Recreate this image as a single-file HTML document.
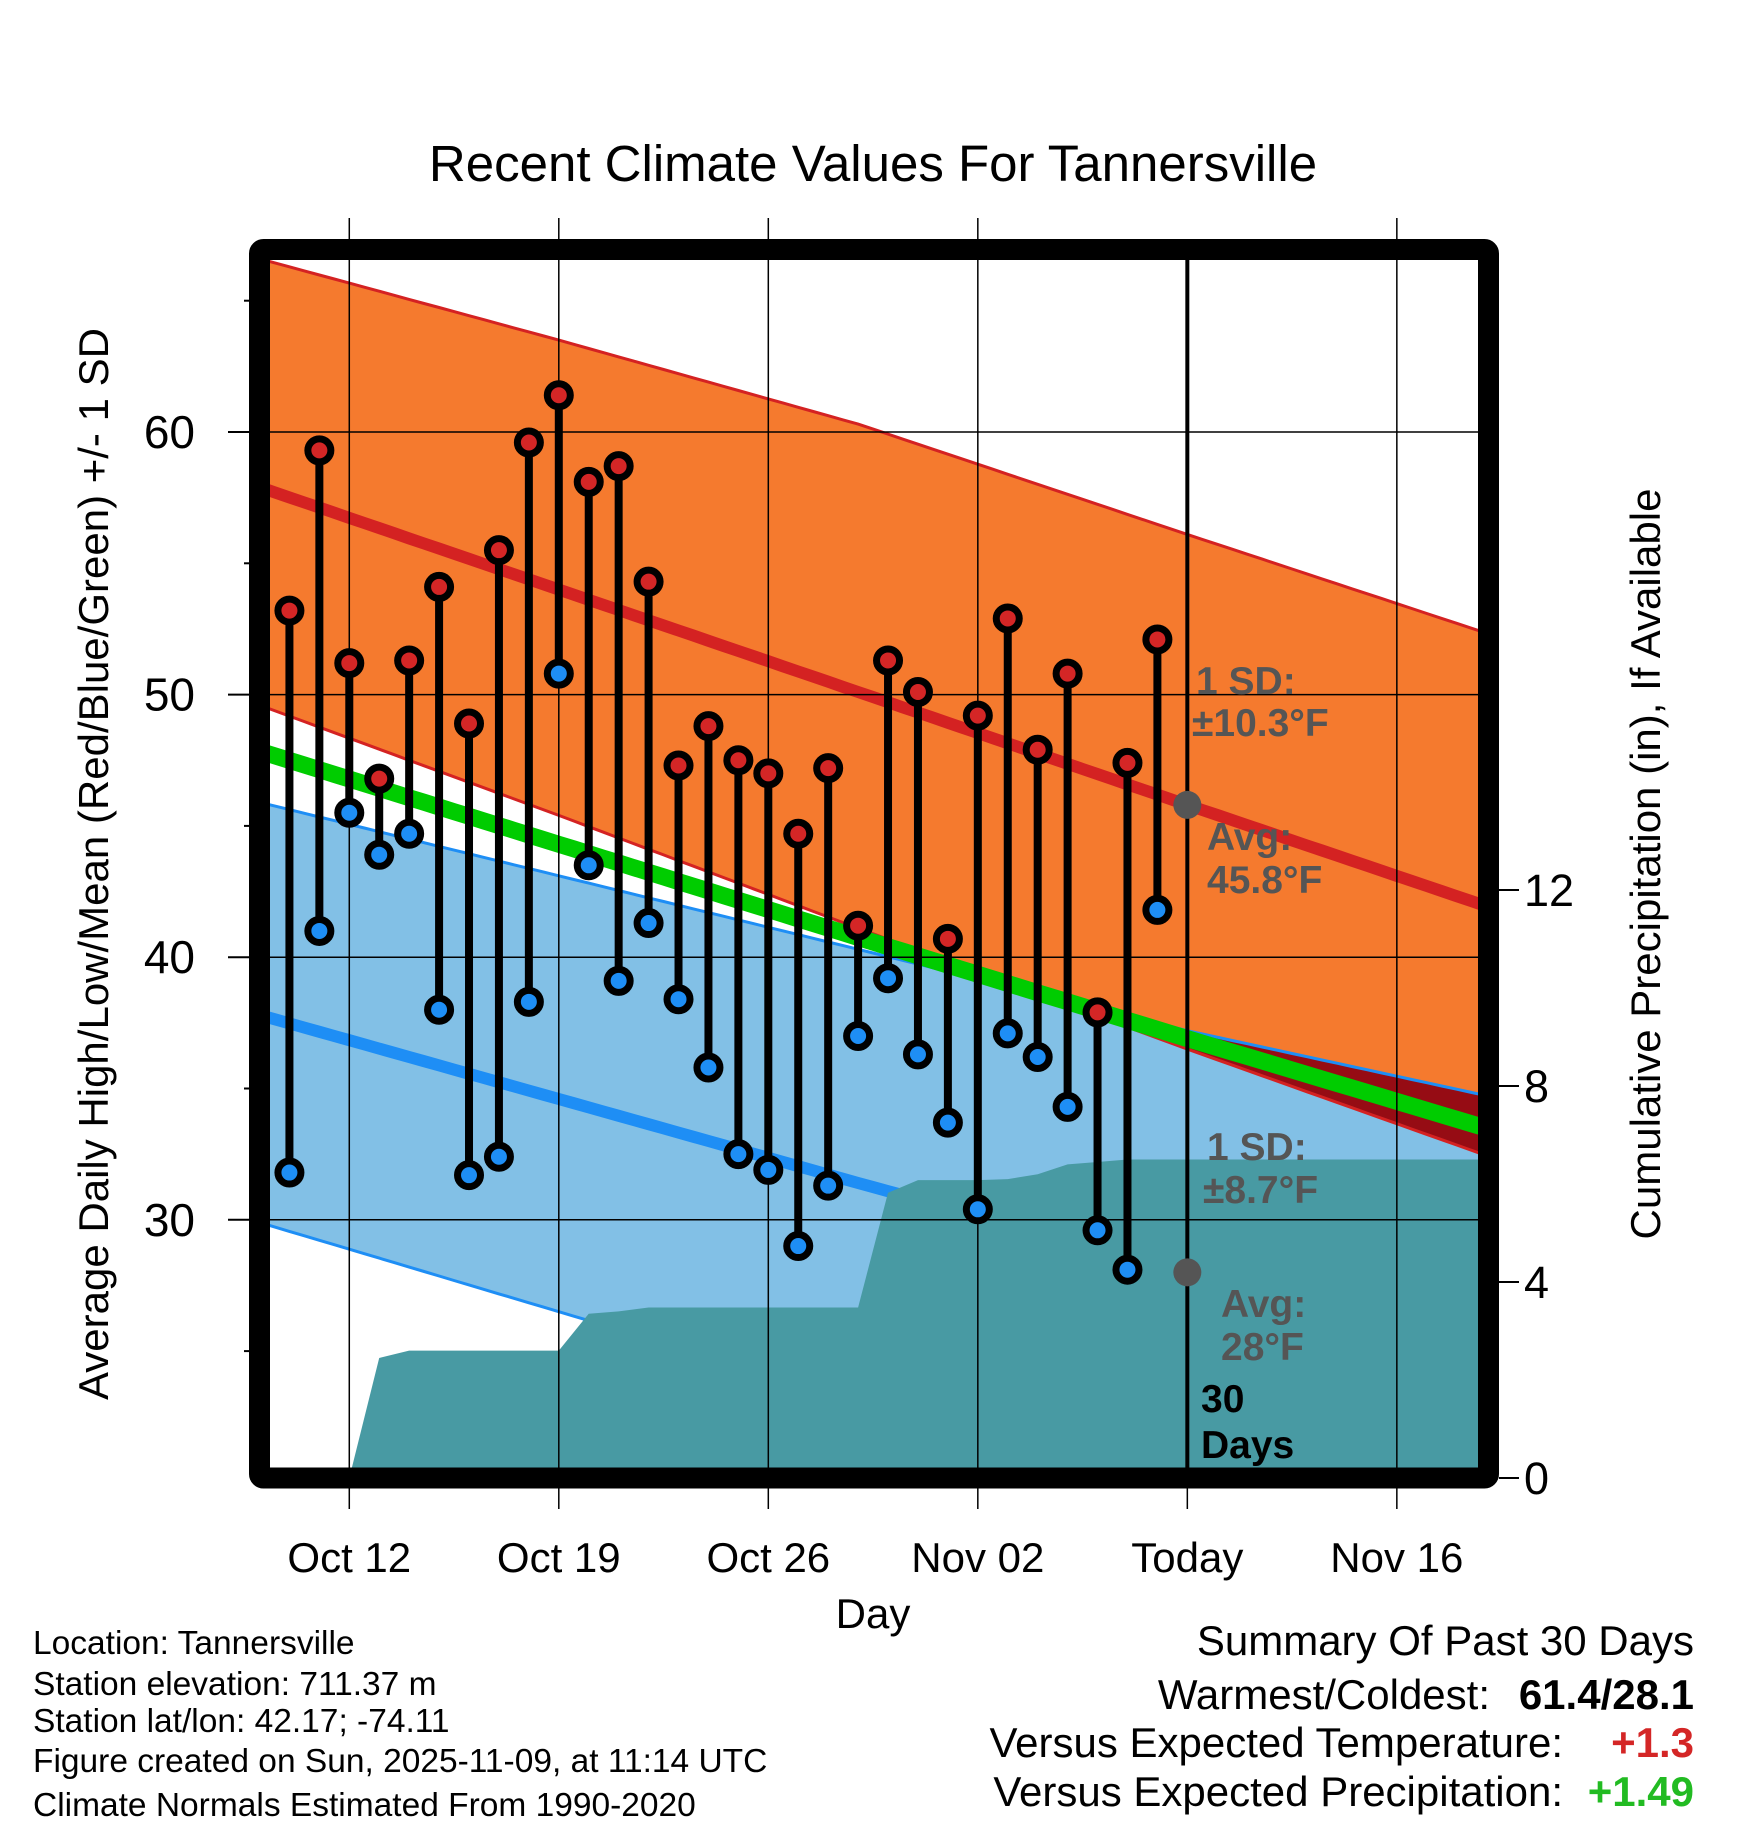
<!DOCTYPE html>
<html><head><meta charset="utf-8"><style>
html,body{margin:0;padding:0;background:#fff;}
svg{display:block;font-family:"Liberation Sans",Arial,sans-serif;}
</style></head><body>
<svg id="chart" width="1748" height="1828" viewBox="0 0 1748 1828" xmlns="http://www.w3.org/2000/svg">
<defs><clipPath id="plotclip"><rect x="259.5" y="249.5" width="1229" height="1228.5"/></clipPath></defs>
<text x="873" y="181" font-size="51" text-anchor="middle">Recent Climate Values For Tannersville</text>
<g id="plot" clip-path="url(#plotclip)"></g>
<g id="overlay"></g>
</svg>
<script>
// ---- data ----
const obsDays = [1,2,3,4,5,6,7,8,9,10,11,12,13,14,15,16,17,18,19,20,21,22,23,24,25,26,27,28,29,30];
const highs = [53.2,59.3,51.2,46.8,51.3,54.1,48.9,55.5,59.6,61.4,58.1,58.7,54.3,47.3,48.8,47.5,47.0,44.7,47.2,41.2,51.3,50.1,40.7,49.2,52.9,47.9,50.8,37.9,47.4,52.1];
const lows = [31.8,41.0,45.5,43.9,44.7,38.0,31.7,32.4,38.3,50.8,43.5,39.1,41.3,38.4,35.8,32.5,31.9,29.0,31.3,37.0,39.2,36.3,33.7,30.4,37.1,36.2,34.3,29.6,28.1,41.8];
const normDays = [0,10,20,31,41.1];
const highUpper = [66.6,63.5,60.3,56.1,52.3];
const highAvg = [57.9,54.0,50.1,45.8,41.9];
const highLower = [49.6,45.4,41.1,36.5,32.4];
const lowUpper = [45.9,43.1,40.3,37.2,34.7];
const lowAvg = [37.8,34.6,31.4,28.0,25.0];
const lowLower = [29.9,26.5,23.1,19.4,16.0];
const precipDays = [3,4,5,6,7,8,9,10,11,12,13,14,15,16,17,18,19,20,21,22,23,24,25,26,27,28,29,30,41.1];
const precip = [0,2.45,2.6,2.6,2.6,2.6,2.6,2.6,3.35,3.4,3.48,3.48,3.48,3.48,3.48,3.48,3.48,3.48,5.82,6.08,6.08,6.08,6.1,6.2,6.4,6.45,6.5,6.5,6.5];
const tempTicks = [30,40,50,60];
const tempMinor = [25,35,45,55,65];
const precipTicks = [0,4,8,12];
const dateTickDays = [3,10,17,24,31,38];
const dateTickLabels = ["Oct 12","Oct 19","Oct 26","Nov 02","Today","Nov 16"];
const todayDay = 31;

// ---- scales ----
const X = d => 259.5 + d*29.93;
const Y = t => 432 + (60-t)*26.26;
const YP = p => 1478 - p*49;
const NS = "http://www.w3.org/2000/svg";
const plot = document.getElementById('plot');
const ov = document.getElementById('overlay');
function mk(tag, attrs, parent){const e=document.createElementNS(NS,tag);for(const k in attrs)e.setAttribute(k,attrs[k]);parent.appendChild(e);return e;}
function interp(arr, d){for(let i=0;i<normDays.length-1;i++){if(d<=normDays[i+1]){const f=(d-normDays[i])/(normDays[i+1]-normDays[i]);return arr[i]+f*(arr[i+1]-arr[i]);}}return arr[arr.length-1];}
const steps=[];for(let d=0;d<=41.1;d+=0.5)steps.push(d);steps.push(41.1);
function line(arr){return steps.map(d=>X(d).toFixed(1)+','+Y(interp(arr,d)).toFixed(1)).join(' ');}
function band(a,b){return steps.map(d=>X(d).toFixed(1)+','+Y(interp(a,d)).toFixed(1)).join(' ')+' '+steps.slice().reverse().map(d=>X(d).toFixed(1)+','+Y(interp(b,d)).toFixed(1)).join(' ');}

let e=mk('polygon',{points:band(lowUpper,lowLower),fill:'#82c0e6'},plot);


e=mk('polygon',{points:band(highUpper,highLower),fill:'#f57a2e'},plot);


const ovTop=steps.map(d=>X(d).toFixed(1)+','+Y(interp(lowUpper,d)).toFixed(1)).join(' ');
const ovBot=steps.slice().reverse().map(d=>{const u=interp(lowUpper,d),l=interp(highLower,d);return X(d).toFixed(1)+','+Y(Math.min(u,l)).toFixed(1);}).join(' ');
e=mk('polygon',{points:ovTop+' '+ovBot,fill:'#960c14'},plot);


e=mk('polyline',{points:line(highUpper),fill:'none',stroke:'#d42222','stroke-width':3},plot);


e=mk('polyline',{points:line(highLower),fill:'none',stroke:'#d42222','stroke-width':3},plot);


e=mk('polyline',{points:line(lowUpper),fill:'none',stroke:'#1e8ef5','stroke-width':3},plot);


e=mk('polyline',{points:line(lowLower),fill:'none',stroke:'#1e8ef5','stroke-width':3},plot);


e=mk('polyline',{points:line(highAvg),fill:'none',stroke:'#d42222','stroke-width':12},plot);


e=mk('polyline',{points:line(lowAvg),fill:'none',stroke:'#1e8ef5','stroke-width':12},plot);


const meanArr=highAvg.map((v,i)=>(v+lowAvg[i])/2);
e=mk('polyline',{points:line(meanArr),fill:'none',stroke:'#00cc00','stroke-width':17},plot);


let pp=X(precipDays[0]).toFixed(1)+','+YP(0)+' ';
precipDays.forEach((d,i)=>{pp+=X(d).toFixed(1)+','+YP(precip[i]).toFixed(1)+' ';});
pp+=X(precipDays[precipDays.length-1]).toFixed(1)+','+YP(0);
e=mk('polygon',{points:pp,fill:'#489aa3'},plot);


tempTicks.forEach(t=>{const g=mk('line',{x1:259.5,x2:1488.5,y1:Y(t),y2:Y(t),stroke:'#000','stroke-width':1.5},plot);

});
dateTickDays.forEach(d=>{const g=mk('line',{x1:X(d),x2:X(d),y1:d===todayDay?249:218,y2:1478,stroke:'#000','stroke-width':d===todayDay?4:1.5},ov);


const t2=mk('line',{x1:X(d),x2:X(d),y1:1478,y2:1509,stroke:'#000','stroke-width':1.5},ov);

});
e=mk('rect',{x:259.5,y:249.5,width:1229,height:1228.5,fill:'none',stroke:'#000','stroke-width':21,rx:4},ov);


tempTicks.forEach(t=>{const l=mk('line',{x1:228,x2:250,y1:Y(t),y2:Y(t),stroke:'#000','stroke-width':2},ov);


const tx=mk('text',{x:195,y:Y(t)+16,'font-size':46,'text-anchor':'end'},ov);tx.textContent=t;

});
tempMinor.forEach(t=>{const l=mk('line',{x1:244,x2:250,y1:Y(t),y2:Y(t),stroke:'#000','stroke-width':2},ov);

});
precipTicks.forEach(p=>{const l=mk('line',{x1:1499,x2:1519,y1:YP(p),y2:YP(p),stroke:'#000','stroke-width':2},ov);


const tx=mk('text',{x:1524,y:YP(p)+16,'font-size':45},ov);tx.textContent=p;

});
dateTickDays.forEach((d,i)=>{const tx=mk('text',{x:X(d),y:1572,'font-size':42,'text-anchor':'middle'},ov);tx.textContent=dateTickLabels[i];

});
obsDays.forEach((d,i)=>{const s=mk('line',{x1:X(d),x2:X(d),y1:Y(highs[i]),y2:Y(lows[i]),stroke:'#000','stroke-width':8},ov);

});
obsDays.forEach((d,i)=>{const h=mk('circle',{cx:X(d),cy:Y(highs[i]),r:11.5,fill:'#d42626',stroke:'#000','stroke-width':7},ov);


const l=mk('circle',{cx:X(d),cy:Y(lows[i]),r:11.5,fill:'#1e8ef5',stroke:'#000','stroke-width':7},ov);

});
e=mk('circle',{cx:X(todayDay),cy:Y(interp(highAvg,todayDay)),r:14,fill:'#555'},ov);


e=mk('circle',{cx:X(todayDay),cy:Y(interp(lowAvg,todayDay)),r:14,fill:'#555'},ov);


</script>
<svg style="position:absolute;left:0;top:0" width="1748" height="1828" viewBox="0 0 1748 1828" xmlns="http://www.w3.org/2000/svg" font-family="Liberation Sans, Arial, sans-serif">
<g font-weight="bold" font-size="39" fill="#555">
<text x="1196" y="694">1 SD:</text>
<text x="1192" y="736">±10.3°F</text>
<text x="1207" y="850">Avg:</text>
<text x="1207" y="893">45.8°F</text>
<text x="1207" y="1160">1 SD:</text>
<text x="1203" y="1203">±8.7°F</text>
<text x="1221" y="1317">Avg:</text>
<text x="1221" y="1360">28°F</text>
</g>
<g font-weight="bold" font-size="39" fill="#000">
<text x="1201" y="1412">30</text>
<text x="1201" y="1458">Days</text>
</g>
<text x="873" y="1628" font-size="42" text-anchor="middle">Day</text>
<text transform="translate(108,864) rotate(-90)" font-size="42" text-anchor="middle">Average Daily High/Low/Mean (Red/Blue/Green) +/- 1 SD</text>
<text transform="translate(1660,864) rotate(-90)" font-size="42" text-anchor="middle">Cumulative Precipitation (in), If Available</text>
<g font-size="33.5" fill="#000">
<text x="33" y="1654">Location: Tannersville</text>
<text x="33" y="1695">Station elevation: 711.37 m</text>
<text x="33" y="1732">Station lat/lon: 42.17; -74.11</text>
<text x="33" y="1772">Figure created on Sun, 2025-11-09, at 11:14 UTC</text>
<text x="33" y="1816">Climate Normals Estimated From 1990-2020</text>
</g>
<g font-size="42" fill="#000">
<text x="1694" y="1655" text-anchor="end">Summary Of Past 30 Days</text>
<text x="1490" y="1709" text-anchor="end">Warmest/Coldest:</text>
<text x="1694" y="1709" text-anchor="end" font-weight="bold">61.4/28.1</text>
<text x="1563" y="1757" text-anchor="end">Versus Expected Temperature:</text>
<text x="1694" y="1757" text-anchor="end" font-weight="bold" fill="#d42626">+1.3</text>
<text x="1563" y="1806" text-anchor="end">Versus Expected Precipitation:</text>
<text x="1694" y="1806" text-anchor="end" font-weight="bold" fill="#22bb22">+1.49</text>
</g>
</svg>
</body></html>
